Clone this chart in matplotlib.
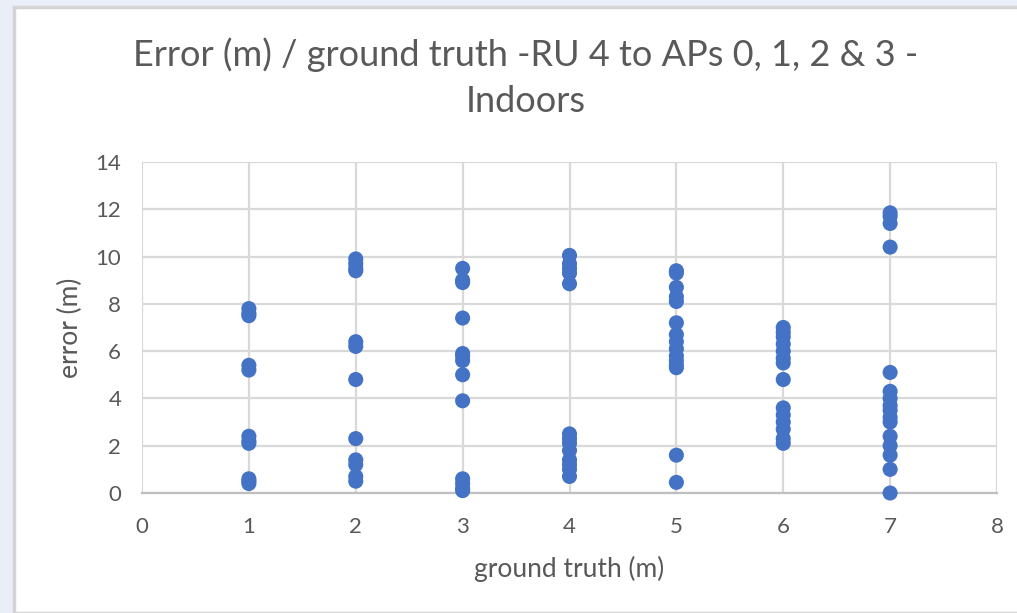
import matplotlib.pyplot as plt
from matplotlib.patches import Rectangle

gt_1 = [7.8, 7.6, 7.5, 5.4, 5.2, 2.4, 2.2, 2.1, 0.6, 0.5, 0.4]
gt_2 = [9.9, 9.7, 9.5, 9.4, 6.4, 6.2, 4.8, 2.3, 1.4, 1.2, 0.7, 0.5]
gt_3 = [9.5, 9.0, 8.9, 7.4, 5.9, 5.8, 5.6, 5.0, 3.9, 0.6, 0.4, 0.2, 0.1]
gt_4 = [10.05, 9.7, 9.5, 9.3, 8.85, 2.5, 2.3, 2.1, 1.8, 1.4, 1.2, 1.0, 0.7]
gt_5 = [9.4, 9.3, 8.7, 8.3, 8.1, 7.2, 6.7, 6.4, 6.1, 5.8, 5.6, 5.4, 5.3, 1.6, 0.45]
gt_6 = [7.0, 6.8, 6.6, 6.3, 6.0, 5.7, 5.5, 4.8, 3.6, 3.3, 3.0, 2.7, 2.3, 2.1]
gt_7 = [11.85, 11.7, 11.4, 10.4, 5.1, 4.3, 4.0, 3.7, 3.5, 3.2, 3.0, 2.4, 2.0, 1.6, 1.0, 0.0]

errors_by_gt = {1: gt_1, 2: gt_2, 3: gt_3, 4: gt_4, 5: gt_5, 6: gt_6, 7: gt_7}

x_ticks = [0, 1, 2, 3, 4, 5, 6, 7, 8]
y_ticks = [0, 2, 4, 6, 8, 10, 12, 14]

text_grey = "#595959"
grid_grey = "#d9d9d9"
dot_blue = "#4472C4"

plt.rcParams["font.family"] = ["Lato", "DejaVu Sans"]

fig = plt.figure(figsize=(10.17, 6.13), dpi=100)
fig.patch.set_facecolor("#e9eef7")
# white chart panel with a thin grey edge, kept behind the axes
fig.patches.append(Rectangle((14 / 1017, 0), 1, 1 - 7 / 613, transform=fig.transFigure,
                             facecolor="white", edgecolor="#d4d4d4", linewidth=2.5, zorder=-10))

ax = fig.add_axes([142 / 1017, 120 / 613, 855 / 1017, 331 / 613])
ax.set_zorder(5)
ax.set_facecolor("white")

xs, ys = [], []
for gt, errs in errors_by_gt.items():
    xs += [gt] * len(errs)
    ys += errs
ax.scatter(xs, ys, s=118, color=dot_blue, edgecolors="none", zorder=3, clip_on=False)

ax.set_xlim(0, 8)
ax.set_ylim(0, 14)
ax.set_xticks(x_ticks)
ax.set_yticks(y_ticks)
ax.grid(True, color=grid_grey, linewidth=1.6)
ax.set_axisbelow(True)
for side in ["top", "right", "left"]:
    ax.spines[side].set_visible(False)
ax.spines["bottom"].set_color("#bfbfbf")
ax.spines["bottom"].set_linewidth(1.6)
ax.tick_params(length=0, labelsize=16, labelcolor=text_grey)
ax.tick_params(axis="x", pad=17)
ax.tick_params(axis="y", pad=15)

ax.set_xlabel("ground truth (m)", fontsize=19, color=text_grey, va="center")
ax.set_ylabel("error (m)", fontsize=19, color=text_grey, va="center", ha="center")
ax.xaxis.set_label_coords(0.5, (493 - 569) / 331)
ax.yaxis.set_label_coords((70 - 142) / 855, 0.5)

fig.text(526 / 1017, 1 - 55 / 613, "Error (m) / ground truth -RU 4 to APs 0, 1, 2 & 3 -",
         ha="center", va="center", fontsize=26, color=text_grey)
fig.text(526 / 1017, 1 - 102 / 613, "Indoors",
         ha="center", va="center", fontsize=26, color=text_grey)

fig.savefig("out.png", dpi=100)
